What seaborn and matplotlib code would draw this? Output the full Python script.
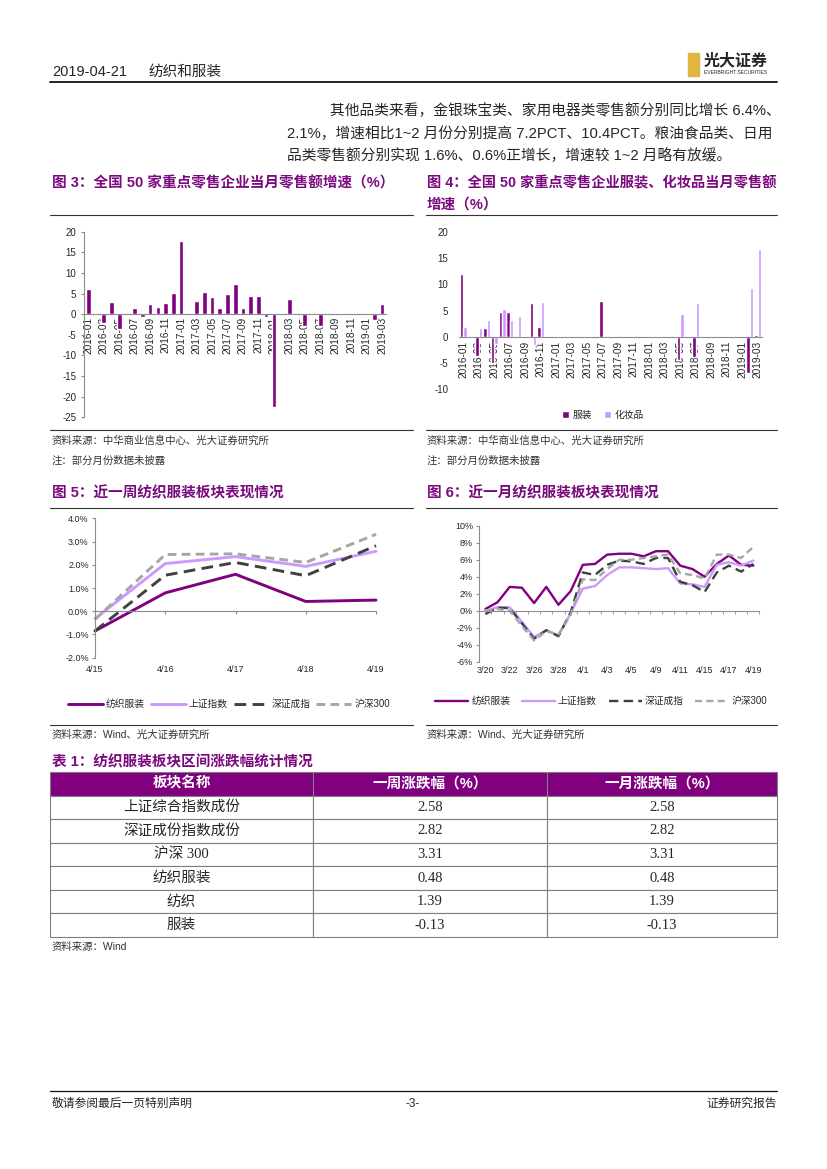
import numpy as np
import pandas as pd
import matplotlib
matplotlib.use('Agg')
import matplotlib.pyplot as plt
from matplotlib.lines import Line2D
from matplotlib.patches import Rectangle
import seaborn as sns

# ---- data ----
months = [f'{y}-{m:02d}' for y in (2016, 2017, 2018) for m in range(1, 13)] + ['2019-01', '2019-02', '2019-03']
nan = np.nan

# 图3 全国50家重点零售企业当月零售额增速
retail_total = [6.2, nan, -2.2, 3.0, -3.5, -0.3, 1.4, -0.8, 2.4, 1.7, 2.7, 5.2,
                17.8, nan, 3.1, 5.5, 4.2, 1.4, 5.0, 7.2, 1.4, 4.5, 4.3, -0.8,
                -22.6, nan, 3.8, nan, -2.9, nan, -2.9, nan, nan, nan, nan, nan,
                nan, -1.4, 2.5]

# 图4 服装 / 化妆品
clothing = [12.0, nan, -3.7, 1.7, -4.9, 4.8, 4.7, -0.3, nan, 6.4, 1.9, nan,
            nan, nan, nan, nan, nan, -0.2, 6.9, nan, nan, nan, nan, nan,
            nan, nan, nan, nan, -4.5, nan, -3.8, nan, nan, nan, nan, nan,
            nan, -6.9, 0.3]
cosmetics = [1.9, nan, 1.7, 3.1, -1.4, 5.2, 3.1, 3.9, nan, -1.6, 6.7, nan,
             nan, nan, nan, nan, nan, nan, nan, nan, nan, nan, nan, nan,
             nan, nan, nan, nan, 4.4, nan, 6.5, nan, nan, nan, nan, nan,
             nan, 9.2, 16.7]

# 图5 近一周
week_days = ['4/15', '4/16', '4/17', '4/18', '4/19']
week_textile = [-0.85, 0.79, 1.59, 0.42, 0.48]
week_sh = [-0.32, 2.05, 2.35, 1.93, 2.58]
week_sz = [-0.85, 1.55, 2.10, 1.53, 2.82]
week_hs300 = [-0.35, 2.44, 2.47, 2.10, 3.31]

# 图6 近一月
month_days = ['3/20', '3/21', '3/22', '3/25', '3/26', '3/27', '3/28', '3/29', '4/1', '4/2', '4/3', '4/4',
              '4/5', '4/8', '4/9', '4/10', '4/11', '4/12', '4/15', '4/16', '4/17', '4/18', '4/19']
month_textile = [0.2, 1.0, 2.8, 2.7, 0.9, 2.8, 0.7, 2.3, 5.4, 5.5, 6.6, 6.7, 6.7, 6.4, 7.0, 7.0,
                 5.3, 4.9, 4.0, 5.5, 6.5, 5.4, 5.3]
month_sh = [0.0, 0.4, 0.4, -1.3, -3.1, -2.3, -2.9, -0.3, 2.6, 2.9, 4.2, 5.1, 5.1, 5.0, 4.9, 5.0,
            3.2, 3.1, 2.8, 5.4, 5.7, 5.3, 5.9]
month_sz = [-0.4, 0.35, 0.3, -1.5, -3.3, -2.3, -3.0, -0.2, 4.5, 4.2, 5.4, 5.9, 5.8, 5.5, 6.2, 6.2,
            3.4, 3.0, 2.2, 4.5, 5.3, 4.6, 5.5]
month_hs300 = [0.0, 0.2, 0.0, -1.8, -3.5, -2.4, -2.8, -0.5, 3.7, 3.6, 4.9, 6.0, 6.0, 6.2, 6.4, 6.6,
               4.4, 4.2, 3.8, 6.6, 6.6, 6.2, 7.5]

series_names = ['纺织服装', '上证指数', '深证成指', '沪深300']

# 表1
table_cols = ['板块名称', '一周涨跌幅（%）', '一月涨跌幅（%）']
table_names = ['上证综合指数成份', '深证成份指数成份', '沪深 300', '纺织服装', '纺织', '服装']
table_week = [2.58, 2.82, 3.31, 0.48, 1.39, -0.13]
table_month = [2.58, 2.82, 3.31, 0.48, 1.39, -0.13]

# ---- style ----
PURPLE = '#800080'
LILAC = '#CC99FF'
DGRAY = '#404040'
LGRAY = '#A6A6A6'
TITLE_C = '#7A0A7E'

sns.set_style('white')
plt.rcParams['font.family'] = ['Liberation Sans', 'Noto Sans CJK SC', 'DejaVu Sans']
plt.rcParams['axes.unicode_minus'] = False

W, H = 827, 1169
fig = plt.figure(figsize=(8.27, 11.69), dpi=100)


def box(l, t, r, b):
    return [l / W, 1 - b / H, (r - l) / W, (b - t) / H]


def txt(x, y, s, **kw):
    kw.setdefault('va', 'center')
    fig.text(x / W, 1 - y / H, s, **kw)


def hline(x0, x1, y, lw=0.8, color='#333333'):
    fig.add_artist(Line2D([x0 / W, x1 / W], [1 - y / H, 1 - y / H], color=color, lw=lw))


# ---- header ----
txt(52, 72, '2019-04-21', fontsize=10.5)
txt(148, 72, '纺织和服装', fontsize=10.5)
hline(50, 777, 82, lw=1.3, color='#111111')
fig.add_artist(Rectangle((688 / W, 1 - 76 / H), 11 / W, 23 / H, color='#E2B440'))
txt(704, 61, '光大证券', fontsize=11.5, fontweight='bold')
txt(704, 73, 'EVERBRIGHT SECURITIES', fontsize=3.6)

# ---- body text ----
txt(330, 111, '其他品类来看，金银珠宝类、家用电器类零售额分别同比增长 6.4%、', fontsize=10.6)
txt(287, 134, '2.1%，增速相比1~2 月份分别提高 7.2PCT、10.4PCT。粮油食品类、日用', fontsize=10.6)
txt(287, 156, '品类零售额分别实现 1.6%、0.6%正增长，增速较 1~2 月略有放缓。', fontsize=10.6)

# ---- titles ----
TKW = dict(fontsize=10.5, fontweight='bold', color=TITLE_C)
txt(52, 183, '图 3：全国 50 家重点零售企业当月零售额增速（%）', **TKW)
txt(427, 183, '图 4：全国 50 家重点零售企业服装、化妆品当月零售额', fontsize=10.25, fontweight='bold', color=TITLE_C)
txt(427, 205, '增速（%）', **TKW)
hline(50, 413, 215)
hline(426, 777, 215)
hline(50, 413, 430)
hline(426, 777, 430)
for x0 in (52, 427):
    txt(x0, 441, '资料来源：中华商业信息中心、光大证券研究所', fontsize=7.5, color='#333333')
    txt(x0, 461, '注：部分月份数据未披露', fontsize=7.5, color='#333333')


def style_bar_axes(ax, left_spine):
    for s in ('top', 'right'):
        ax.spines[s].set_visible(False)
    ax.spines['left'].set_visible(left_spine)
    ax.spines['left'].set_color('#8c8c8c')
    ax.spines['bottom'].set_position(('data', 0))
    ax.spines['bottom'].set_color('#8c8c8c')
    ax.set_xlim(-0.5, 38.5)
    ax.set_xticks(range(0, 39, 2))
    ax.set_xticklabels(months[::2])
    ax.set_xlabel('')
    ax.set_ylabel('')


# ---- 图3 ----
ax3 = fig.add_axes(box(84.4, 231.7, 386, 417.3))
df3 = pd.DataFrame({'month': months, 'value': retail_total})
sns.barplot(data=df3, x='month', y='value', order=months, color=PURPLE, saturation=1,
            width=0.6, errorbar=None, ax=ax3)
style_bar_axes(ax3, True)
ax3.set_ylim(-25, 20)
ax3.set_yticks(range(-25, 21, 5))
ax3.tick_params(axis='y', labelsize=7, length=2, pad=4, color='#8c8c8c', left=True)
ax3.tick_params(axis='x', labelsize=7.3, length=0, pad=2, labelrotation=90)

# ---- 图4 ----
ax4 = fig.add_axes(box(459.4, 231.7, 761.6, 389.3))
df4 = pd.DataFrame({'month': months * 2, 'value': clothing + cosmetics,
                    'kind': ['服装'] * len(months) + ['化妆品'] * len(months)})
sns.barplot(data=df4, x='month', y='value', hue='kind', order=months, hue_order=['服装', '化妆品'],
            palette={'服装': PURPLE, '化妆品': LILAC}, saturation=1, width=0.9, errorbar=None, ax=ax4)
style_bar_axes(ax4, False)
ax4.set_ylim(-10, 20)
ax4.set_yticks(range(-10, 21, 5))
ax4.tick_params(axis='y', labelsize=7, length=0, pad=8)
ax4.tick_params(axis='x', labelsize=7.3, length=0, pad=3, labelrotation=90)
ax4.legend(loc='center', bbox_to_anchor=(603 / W, 1 - 415 / H), bbox_transform=fig.transFigure,
           ncol=2, frameon=False, fontsize=7, handlelength=0.7, handleheight=0.7,
           handletextpad=0.4, columnspacing=1.2)

# ---- titles 5/6 ----
txt(52, 493, '图 5：近一周纺织服装板块表现情况', **TKW)
txt(427, 493, '图 6：近一月纺织服装板块表现情况', **TKW)
hline(50, 413, 508)
hline(426, 777, 508)
hline(50, 413, 725)
hline(426, 777, 725)
txt(52, 735, '资料来源：Wind、光大证券研究所', fontsize=7.5, color='#333333')
txt(427, 735, '资料来源：Wind、光大证券研究所', fontsize=7.5, color='#333333')

line_styles = {
    '纺织服装': dict(color=PURPLE, linestyle='-'),
    '上证指数': dict(color=LILAC, linestyle='-'),
    '深证成指': dict(color=DGRAY, linestyle=(0, (4, 2.2))),
    '沪深300': dict(color=LGRAY, linestyle=(0, (3, 1.8))),
}


def draw_lines(ax, x, ys, lw):
    for name, y in zip(series_names, ys):
        sns.lineplot(x=x, y=y, ax=ax, label=name, linewidth=lw, clip_on=False, **line_styles[name])


def style_line_axes(ax):
    for s in ('top', 'right'):
        ax.spines[s].set_visible(False)
    ax.spines['bottom'].set_position(('data', 0))
    ax.spines['bottom'].set_color('#8c8c8c')
    ax.spines['left'].set_color('#8c8c8c')
    ax.set_xlabel('')
    ax.set_ylabel('')


# ---- 图5 ----
ax5 = fig.add_axes(box(95, 518.3, 376, 657.7))
xw = np.arange(len(week_days))
draw_lines(ax5, xw, [week_textile, week_sh, week_sz, week_hs300], 2.1)
style_line_axes(ax5)
ax5.set_xlim(0, 4)
ax5.set_ylim(-2, 4)
ax5.set_yticks(range(-2, 5))
ax5.set_yticklabels([f'{v:.1f}%' for v in range(-2, 5)])
ax5.set_xticks(xw)
ax5.set_xticklabels(week_days)
ax5.tick_params(axis='y', labelsize=6.5, length=2.5, pad=2, color='#8c8c8c', left=True)
ax5.tick_params(axis='x', labelsize=6.5, length=2.5, pad=36, color='#8c8c8c', bottom=True)
ax5.legend(loc='center', bbox_to_anchor=(229 / W, 1 - 704 / H), bbox_transform=fig.transFigure,
           ncol=4, frameon=False, fontsize=7, handlelength=3.6, handletextpad=0.3, columnspacing=0.6)

# ---- 图6 ----
ax6 = fig.add_axes(box(479.3, 525.7, 759.4, 661.7))
xm = np.arange(len(month_days))
draw_lines(ax6, xm, [month_textile, month_sh, month_sz, month_hs300], 1.7)
style_line_axes(ax6)
ax6.set_xlim(-0.5, len(month_days) - 0.5)
ax6.set_ylim(-6, 10)
ax6.set_yticks(range(-6, 11, 2))
ax6.set_yticklabels([f'{v}%' for v in range(-6, 11, 2)])
ax6.set_xticks(xm[::2])
ax6.set_xticklabels(month_days[::2])
ax6.set_xticks(np.arange(-0.5, len(month_days), 1), minor=True)
ax6.tick_params(axis='y', labelsize=6.5, length=2.5, pad=2, color='#8c8c8c', left=True)
ax6.tick_params(axis='x', which='major', labelsize=6.5, length=0, pad=40)
ax6.tick_params(axis='x', which='minor', length=2.5, color='#8c8c8c', bottom=True)
ax6.legend(loc='center', bbox_to_anchor=(601 / W, 1 - 701 / H), bbox_transform=fig.transFigure,
           ncol=4, frameon=False, fontsize=7, handlelength=3.4, handletextpad=0.3, columnspacing=1.2)

# ---- 表1 ----
txt(52, 762, '表 1：纺织服装板块区间涨跌幅统计情况', **TKW)
axt = fig.add_axes(box(50, 772, 777, 937))
axt.axis('off')
cell_text = [[n, f'{w:.2f}', f'{m:.2f}'] for n, w, m in zip(table_names, table_week, table_month)]
tbl = axt.table(cellText=cell_text, colLabels=table_cols, cellLoc='center', bbox=[0, 0, 1, 1],
                colWidths=[263 / 727, 234 / 727, 230 / 727])
tbl.auto_set_font_size(False)
tbl.set_fontsize(10.5)
for (r, c), cell in tbl.get_celld().items():
    cell.set_edgecolor('#7f7f7f')
    cell.set_linewidth(0.8)
    if r == 0:
        cell.set_facecolor(PURPLE)
        cell.get_text().set_color('white')
        cell.get_text().set_fontweight('bold')
    else:
        cell.get_text().set_family(['Liberation Serif', 'Noto Sans CJK SC'])
txt(52, 947, '资料来源：Wind', fontsize=7.5, color='#333333')

# ---- footer ----
hline(50, 777, 1091, lw=0.9, color='#111111')
txt(52, 1104, '敬请参阅最后一页特别声明', fontsize=8.5)
txt(413, 1104, '-3-', fontsize=8.5, ha='center')
txt(777, 1104, '证券研究报告', fontsize=8.5, ha='right')

fig.savefig('out.png', dpi=100)
